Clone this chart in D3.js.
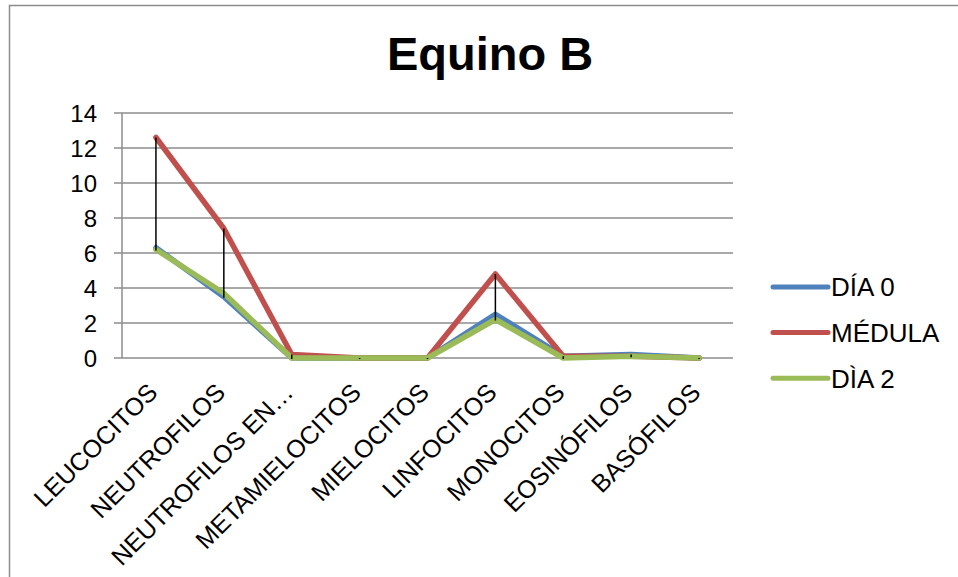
<!DOCTYPE html>
<html>
<head>
<meta charset="utf-8">
<script src="https://cdn.jsdelivr.net/npm/d3@7"></script>
<style>
  html, body { margin: 0; padding: 0; background: #fff; }
  svg { display: block; font-family: "Liberation Sans", Arial, sans-serif; }
</style>
</head>
<body>
<svg id="chart" width="958" height="577"></svg>
<script>
// Cell counts per category for each sampling
const categoryLabels = ["LEUCOCITOS", "NEUTROFILOS", "NEUTROFILOS EN…", "METAMIELOCITOS",
  "MIELOCITOS", "LINFOCITOS", "MONOCITOS", "EOSINÓFILOS", "BASÓFILOS"];
const dia0 = [6.3, 3.5, 0, 0, 0, 2.5, 0.1, 0.2, 0];
const medula = [12.6, 7.4, 0.2, 0, 0, 4.8, 0.1, 0.1, 0];
const dia2 = [6.2, 3.7, 0, 0, 0, 2.2, 0, 0.1, 0];
const seriesNames = ["DÍA 0", "MÉDULA", "DÌA 2"];
const seriesColors = ["#4F81BD", "#C0504D", "#9BBB59"];
const yTicks = [0, 2, 4, 6, 8, 10, 12, 14];

const svg = d3.select("#chart");
const seriesValues = [dia0, medula, dia2];

// outer chart frame
svg.append("rect")
  .attr("x", 9.5).attr("y", 5.5)
  .attr("width", 1000).attr("height", 600)
  .attr("fill", "none").attr("stroke", "#8c8c8c").attr("stroke-width", 1.5);

const plotLeft = 122, plotRight = 733, plotTop = 113, plotBottom = 358;

const x = d3.scaleBand().domain(categoryLabels).range([plotLeft, plotRight]);
const y = d3.scaleLinear().domain([0, 14]).range([plotBottom, plotTop]);
const cx = d => x(d) + x.bandwidth() / 2;

// horizontal gridlines (with left tick stubs)
svg.append("g")
  .selectAll("line").data(yTicks).join("line")
  .attr("x1", plotLeft - 8).attr("x2", plotRight)
  .attr("y1", d => y(d)).attr("y2", d => y(d))
  .attr("stroke", "#8c8c8c").attr("stroke-width", 1.5);

// value axis line
svg.append("line")
  .attr("x1", plotLeft).attr("x2", plotLeft)
  .attr("y1", y(14)).attr("y2", y(0))
  .attr("stroke", "#8c8c8c").attr("stroke-width", 1.5);

// value axis labels
svg.append("g")
  .selectAll("text").data(yTicks).join("text")
  .attr("x", 97).attr("y", d => y(d))
  .attr("dy", "0.36em")
  .attr("text-anchor", "end")
  .attr("font-size", 24)
  .attr("fill", "#000")
  .text(d => d);

// category labels, rotated
svg.append("g")
  .selectAll("text").data(categoryLabels).join("text")
  .attr("transform", d => `translate(${cx(d) + 3},${plotBottom + 36}) rotate(-45)`)
  .attr("text-anchor", "end")
  .attr("font-size", 25)
  .attr("fill", "#000")
  .text(d => d);

// series lines
const line = d3.line()
  .x((v, i) => cx(categoryLabels[i]))
  .y(v => y(v));

svg.append("g")
  .selectAll("path").data(seriesValues).join("path")
  .attr("d", d => line(d))
  .attr("fill", "none")
  .attr("stroke", (d, i) => seriesColors[i])
  .attr("stroke-width", 5.5)
  .attr("stroke-linejoin", "round")
  .attr("stroke-linecap", "round");

// high-low lines between the largest and smallest value at each category
svg.append("g")
  .selectAll("line").data(categoryLabels).join("line")
  .attr("x1", d => cx(d)).attr("x2", d => cx(d))
  .attr("y1", (d, i) => y(d3.max(seriesValues, s => s[i])))
  .attr("y2", (d, i) => y(d3.min(seriesValues, s => s[i])) + 1)
  .attr("stroke", "#000").attr("stroke-width", 1.5);

// title
svg.append("text")
  .attr("x", 490).attr("y", 70)
  .attr("text-anchor", "middle")
  .attr("font-size", 47)
  .attr("font-weight", "bold")
  .attr("fill", "#000")
  .text("Equino B");

// legend
const legend = svg.append("g")
  .selectAll("g").data(seriesNames).join("g")
  .attr("transform", (d, i) => `translate(773,${287 + i * 45.6})`);
legend.append("line")
  .attr("x1", 0).attr("x2", 55)
  .attr("stroke", (d, i) => seriesColors[i])
  .attr("stroke-width", 5)
  .attr("stroke-linecap", "round");
legend.append("text")
  .attr("x", 58).attr("dy", "0.36em")
  .attr("font-size", 26)
  .attr("fill", "#000")
  .text(d => d);
</script>
</body>
</html>
